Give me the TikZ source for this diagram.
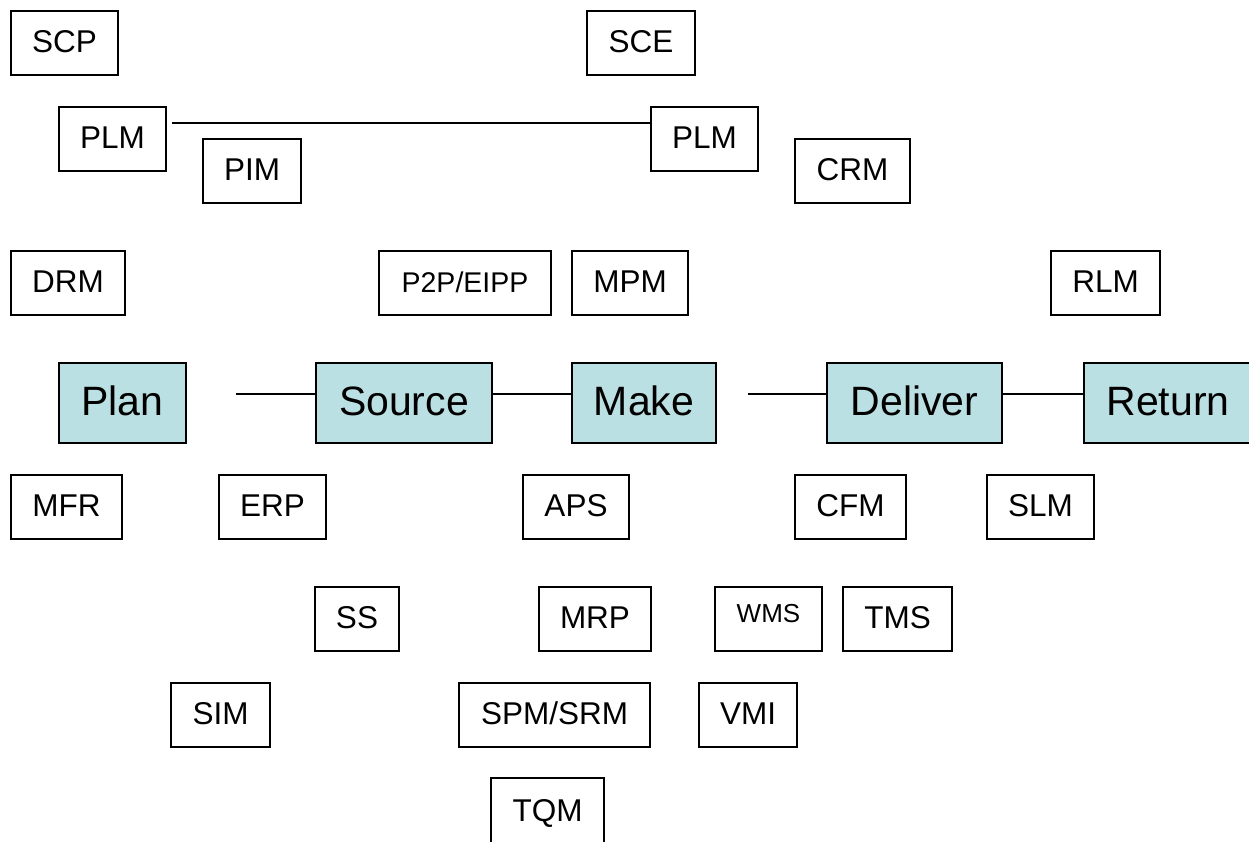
\documentclass[tikz,border=0pt]{standalone}
\usepackage{fontspec}
\setmainfont{Liberation Sans}
\definecolor{stagefill}{HTML}{BBE0E3}
\tikzset{
  sysbox/.style={draw=black, line width=1.6pt, fill=white, inner sep=0pt,
    minimum height=64pt, text height=22.6pt, text depth=3pt,
    font=\fontsize{31.5}{36}\selectfont},
  smalltext/.style={text height=20.4pt, text depth=1pt, font=\fontsize{28.5}{33}\selectfont},
  tinytext/.style={text height=18.6pt, font=\fontsize{26}{30}\selectfont},
  stage/.style={draw=black, line width=1.6pt, fill=stagefill, inner sep=0pt,
    minimum height=80pt, text height=29.4pt, text depth=4pt,
    font=\fontsize{41}{48}\selectfont},
  link/.style={draw=black, line width=1.6pt}
}
\begin{document}
\begin{tikzpicture}[x=1pt, y=-1pt]
\useasboundingbox (0,0) rectangle (1249,842);

% top rows
\node[sysbox, minimum width=107pt] (scp)  at (64.5,43)  {SCP};
\node[sysbox, minimum width=108pt] (sce)  at (641,43)   {SCE};
\node[sysbox, minimum width=107pt] (plmA) at (112.5,139){PLM};
\node[sysbox, minimum width=107pt] (plmB) at (704.5,139){PLM};
\node[sysbox, minimum width=98pt]  (pim)  at (252,171)  {PIM};
\node[sysbox, minimum width=115pt] (crm)  at (852.5,171){CRM};
\node[sysbox, minimum width=114pt] (drm)  at (68,283)   {DRM};
\node[sysbox, smalltext, minimum width=172pt] (ptp) at (465,283) {P2P/EIPP};
\node[sysbox, minimum width=116pt] (mpm)  at (630,283)  {MPM};
\node[sysbox, minimum width=109pt] (rlm)  at (1105.5,283){RLM};

% PLM link
\coordinate (plmstart) at (172,123);
\draw[link] (plmstart) -- ([yshift=16pt]plmB.west);

% process stages
\node[stage, minimum width=127pt] (plan)    at (122.5,403) {Plan};
\node[stage, minimum width=176pt] (source)  at (404,403)   {Source};
\node[stage, minimum width=144pt] (make)    at (644,403)   {Make};
\node[stage, minimum width=175pt] (deliver) at (914.5,403) {Deliver};
\node[stage, minimum width=168pt] (return)  at (1168,403)  {Return};

\coordinate (planout) at (236,394);
\coordinate (makeout) at (748,394);
\draw[link] (planout) -- ([yshift=9pt]source.west);
\draw[link] ([yshift=9pt]source.east) -- ([yshift=9pt]make.west);
\draw[link] (makeout) -- ([yshift=9pt]deliver.west);
\draw[link] ([yshift=9pt]deliver.east) -- ([yshift=9pt]return.west);

% lower rows
\node[sysbox, minimum width=111pt] (mfr) at (66.5,507)  {MFR};
\node[sysbox, minimum width=107pt] (erp) at (272.5,507) {ERP};
\node[sysbox, minimum width=106pt] (aps) at (576,507)   {APS};
\node[sysbox, minimum width=111pt] (cfm) at (850.5,507) {CFM};
\node[sysbox, minimum width=107pt] (slm) at (1040.5,507){SLM};
\node[sysbox, minimum width=84pt]  (ss)  at (357,619)   {SS};
\node[sysbox, minimum width=112pt] (mrp) at (595,619)   {MRP};
\node[sysbox, tinytext, minimum width=107pt] (wms) at (768.5,619) {\raisebox{4pt}{WMS}};
\node[sysbox, minimum width=109pt] (tms) at (897.5,619) {TMS};
\node[sysbox, minimum width=99pt]  (sim) at (220.5,715) {SIM};
\node[sysbox, minimum width=191pt] (spm) at (554.5,715) {SPM/SRM};
\node[sysbox, minimum width=98pt]  (vmi) at (748,715)   {VMI};
\node[sysbox, minimum width=113pt, minimum height=68pt] (tqm) at (547.5,812) {TQM};
\end{tikzpicture}
\end{document}
